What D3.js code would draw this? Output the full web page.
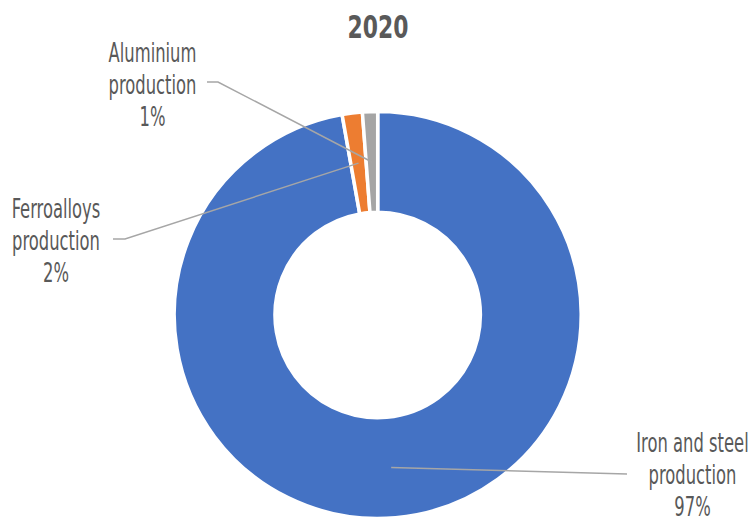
<!DOCTYPE html>
<html><head><meta charset="utf-8">
<script src="https://cdn.jsdelivr.net/npm/d3@7"></script>
<style>
html,body{margin:0;padding:0;background:#fff;}
text{font-family:"DejaVu Sans Condensed","DejaVu Sans",sans-serif;fill:#595959;}
</style></head>
<body><svg id="c" width="753" height="517"></svg>
<script>
const title = "2020";
const categories = ["Iron and steel production", "Ferroalloys production", "Aluminium production"];
const values = [97.2, 1.6, 1.2];
const colors = ["#4472C4", "#ED7D31", "#A5A5A5"];
// label layout (text lines, anchor position of text block and leader-line start)
const labelLines = [["Iron and steel", "production"], ["Ferroalloys", "production"], ["Aluminium", "production"]];
const labelPos = [{x: 692.5, y: 452, lx: 627, ly: 474, hx: 627},
                  {x: 56, y: 218, lx: 113, ly: 239, hx: 125},
                  {x: 152.5, y: 62, lx: 207, ly: 82, hx: 218}];

const svg = d3.select("#c");
const cx = 377.7, cy = 315, rOuter = 203.5, rInner = 102.7;
const total = d3.sum(values);
const sx = 0.70;

svg.append("g").attr("transform", `translate(378,38) scale(0.76,1)`)
  .append("text").attr("text-anchor", "middle")
  .attr("font-size", 32).attr("font-weight", "bold").text(title);

const pie = d3.pie().sort(null).value(d => d)(values);
const arc = d3.arc().innerRadius(rInner).outerRadius(rOuter);
const g = svg.append("g").attr("transform", `translate(${cx},${cy})`);
g.selectAll("path").data(pie).join("path")
  .attr("d", arc).attr("fill", (d, i) => colors[i])
  .attr("stroke", "#fff").attr("stroke-width", 3.5);

const mid = d3.arc().innerRadius((rInner + rOuter) / 2).outerRadius((rInner + rOuter) / 2);
pie.forEach((d, i) => {
  const c = mid.centroid(d);
  const p = labelPos[i];
  svg.append("polyline")
    .attr("points", [[p.lx, p.ly], [p.hx, p.ly], [cx + c[0], cy + c[1]]].map(q => q.join(",")).join(" "))
    .attr("fill", "none").attr("stroke", "#A6A6A6").attr("stroke-width", 1.5);
  const pct = Math.round(values[i] / total * 100) + "%";
  const lines = labelLines[i].concat([pct]);
  const t = svg.append("g").attr("transform", `translate(${p.x},${p.y}) scale(${sx},1)`)
    .append("text").attr("text-anchor", "middle").attr("font-size", 26);
  lines.forEach((s, k) => {
    t.append("tspan").attr("x", 0).attr("y", k * 32).text(s);
  });
});
</script></body></html>
